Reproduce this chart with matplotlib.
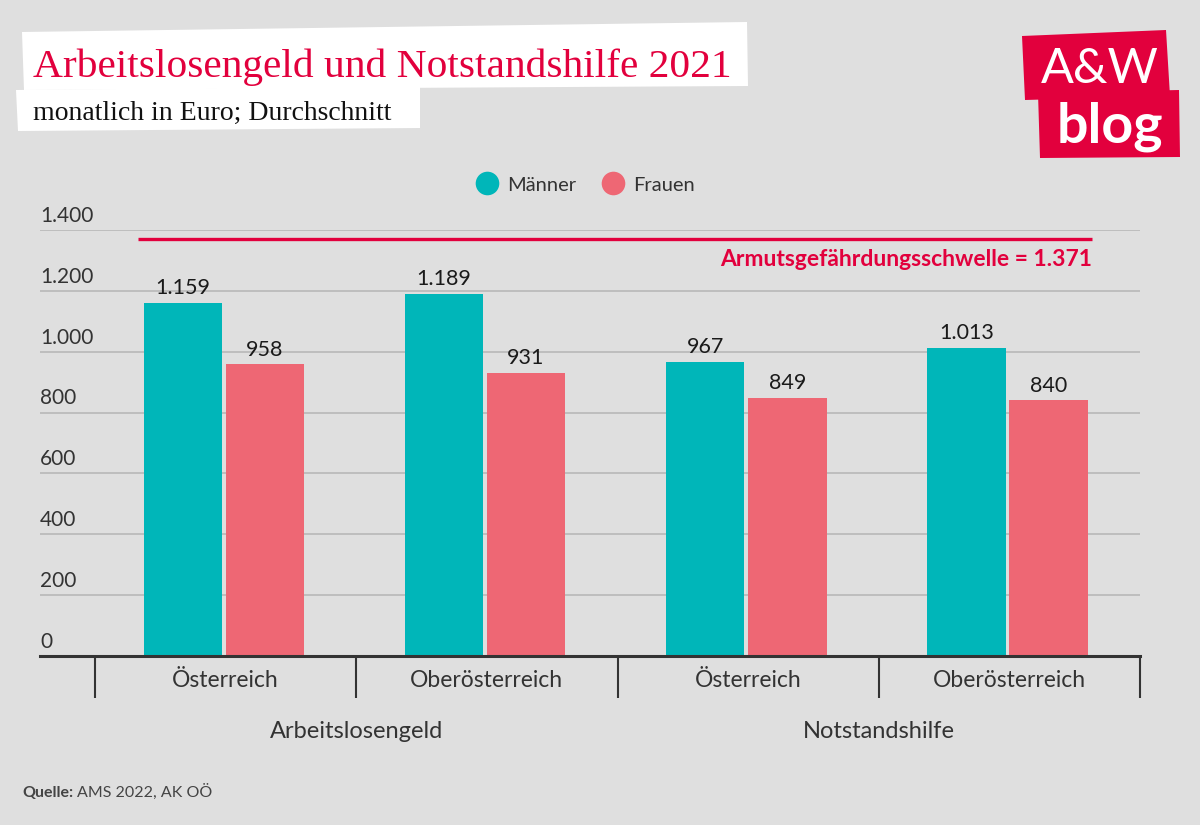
import matplotlib
matplotlib.use("Agg")
import matplotlib.pyplot as plt
from matplotlib.patches import Polygon
from matplotlib.lines import Line2D
import matplotlib.transforms as mtransforms

# ---- data ----
categories = ["Österreich", "Oberösterreich", "Österreich", "Oberösterreich"]
groups = ["Arbeitslosengeld", "Notstandshilfe"]
maenner = [1159, 1189, 967, 1013]
frauen = [958, 931, 849, 840]
series_names = ["Männer", "Frauen"]
threshold = 1371
threshold_label = "Armutsgefährdungsschwelle = 1.371"
yticks = [0, 200, 400, 600, 800, 1000, 1200, 1400]
title = "Arbeitslosengeld und Notstandshilfe 2021"
subtitle = "monatlich in Euro; Durchschnitt"

def fmt(v):
    return f"{v:,}".replace(",", ".")

BG = "#DFDFDF"
TEAL = "#00B6B9"
PINK = "#EE6774"
RED = "#E2003D"
SANS = ["Lato", "DejaVu Sans"]

W, H = 1200, 825
fig = plt.figure(figsize=(12, 8.25), dpi=100, facecolor=BG)

def px(x, y):
    return (x / W, 1 - y / H)

# title boxes
fig.patches.append(Polygon([px(22, 32), px(747, 22), px(748, 86), px(24, 90)],
                           closed=True, facecolor="white", edgecolor="none",
                           transform=fig.transFigure, zorder=0))
fig.patches.append(Polygon([px(16, 90), px(420, 86), px(420, 128), px(18, 131)],
                           closed=True, facecolor="white", edgecolor="none",
                           transform=fig.transFigure, zorder=0))
fig.text(*px(33, 77), title, color=RED, fontsize=29.8, family=["Liberation Serif"],
         ha="left", va="baseline")
fig.text(*px(33, 120), subtitle, color="#111111", fontsize=20, family=["Liberation Serif"],
         ha="left", va="baseline")

# logo
fig.patches.append(Polygon([px(1022, 36), px(1166, 30), px(1170, 96), px(1025, 100)],
                           closed=True, facecolor=RED, edgecolor="none",
                           transform=fig.transFigure, zorder=0))
fig.patches.append(Polygon([px(1038, 93), px(1179, 90), px(1180, 157), px(1040, 158)],
                           closed=True, facecolor=RED, edgecolor="none",
                           transform=fig.transFigure, zorder=0))
fig.text(*px(1100, 83), "A&W", color="white", fontsize=35, family=SANS,
         fontweight="normal", ha="center", va="baseline")
fig.text(*px(1110, 143), "blog", color="white", fontsize=40, family=SANS,
         fontweight="bold", ha="center", va="baseline")

# axes
left, right, top, bottom = 40, 1140, 230, 656
ax = fig.add_axes([left / W, 1 - bottom / H, (right - left) / W, (bottom - top) / H])
ax.set_facecolor(BG)
xl = -0.5 - 55 / 261.25
ax.set_xlim(xl, 3.5)
ax.set_ylim(0, 1400)

x = list(range(len(categories)))
bw = 0.30
b1 = ax.bar([i - 0.164 for i in x], maenner, width=bw, color=TEAL, zorder=3)
b2 = ax.bar([i + 0.150 for i in x], frauen, width=bw, color=PINK, zorder=3)
for bars, vals in ((b1, maenner), (b2, frauen)):
    for r, v in zip(bars, vals):
        ax.annotate(fmt(v), (r.get_x() + r.get_width() / 2, v), xytext=(0, 3.5),
                    textcoords="offset points", ha="center", va="bottom",
                    fontsize=15.5, color="#1a1a1a", family=SANS)

# grid
ax.set_yticks(yticks)
ax.yaxis.grid(True, color="#BBBBBB", linewidth=1.3, zorder=1)
ax.tick_params(axis="y", length=0, labelleft=False)
trans_y = mtransforms.blended_transform_factory(ax.transAxes, ax.transData)
for t in yticks:
    ax.annotate(fmt(t), (0, t), xycoords=trans_y, xytext=(0, 3),
                textcoords="offset points", ha="left", va="bottom",
                fontsize=15, color="#333333", family=SANS)

for s in ("left", "right", "top"):
    ax.spines[s].set_visible(False)
ax.spines["bottom"].set_linewidth(2.2)
ax.spines["bottom"].set_color("#333333")
ax.spines["bottom"].set_zorder(4)

ax.set_xticks(x)
ax.set_xticklabels(categories, fontsize=16.5, color="#333333", family=SANS)
ax.tick_params(axis="x", which="major", length=0, pad=10)
ax.set_xticks([-0.5, 0.5, 1.5, 2.5, 3.5], minor=True)
ax.tick_params(axis="x", which="minor", length=30, width=1.5, color="#333333")

trans_x = mtransforms.blended_transform_factory(ax.transData, ax.transAxes)
for gi, g in enumerate(groups):
    ax.text(gi * 2 + 0.5, -75 / (bottom - top), g, transform=trans_x,
            ha="center", va="center", fontsize=17, color="#333333", family=SANS)

# threshold
x0 = (138 - 95) / 261.25 - 0.5
x1 = (1092 - 95) / 261.25 - 0.5
ax.plot([x0, x1], [threshold, threshold], color=RED, linewidth=2.4, zorder=4,
        solid_capstyle="butt")
ax.annotate(threshold_label, (x1, threshold), xytext=(0, -7), textcoords="offset points",
            ha="right", va="top", fontsize=16.5, fontweight="bold", color=RED, family=SANS)

# legend
handles = [Line2D([], [], marker="o", linestyle="none", markersize=17,
                  markerfacecolor=c, markeredgecolor="none") for c in (TEAL, PINK)]
fig.legend(handles, series_names, loc="center", bbox_to_anchor=px(585, 185), ncol=2,
           frameon=False, prop={"family": SANS, "size": 14.5}, labelcolor="#333333",
           handletextpad=0.4, columnspacing=1.2, handlelength=1.2)

# source
fig.text(*px(22, 797), "Quelle:", fontsize=11.5, fontweight="bold", color="#444444",
         family=SANS, ha="left", va="baseline")
fig.text(*px(77, 797), "AMS 2022, AK OÖ", fontsize=11.5, color="#444444",
         family=SANS, ha="left", va="baseline")

fig.savefig("out.png", dpi=100, facecolor=BG)
